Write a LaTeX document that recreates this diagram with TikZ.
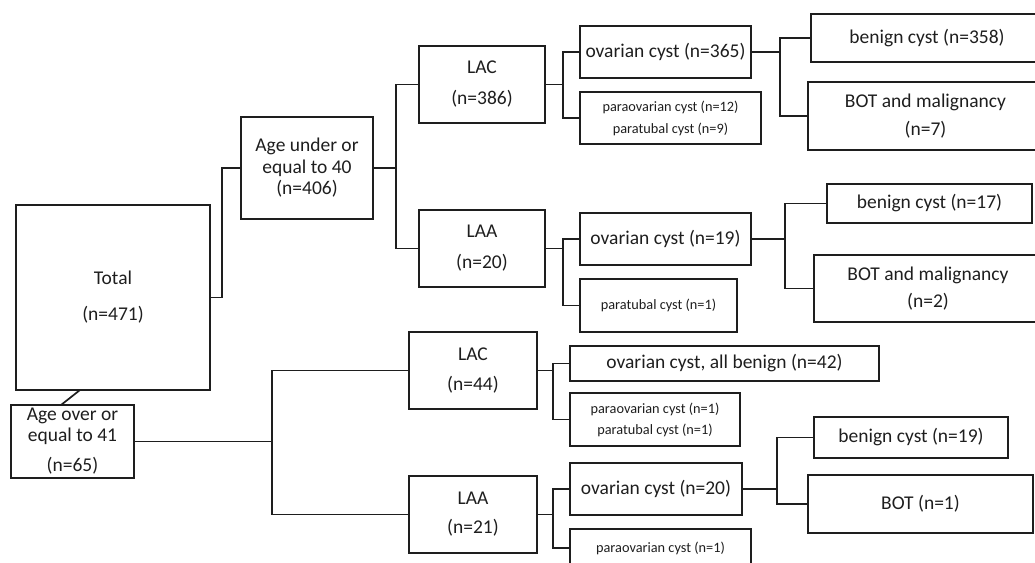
\documentclass[tikz,border=0pt]{standalone}
\usepackage{fontspec}
\setmainfont{Carlito}
\definecolor{ink}{HTML}{1E1E1E}
\newcommand\drawbox[7]{%
  \node[box,#1,minimum width={(#5-#3)*1pt},minimum height={(#6-#4)*1pt}] (#2) at ({(#3+#5)/2},{(#4+#6)/2}) {#7};}
\begin{document}
\begin{tikzpicture}[x=1pt,y=-1pt,
  box/.style={draw=ink,line width=1.9pt,rectangle,inner sep=0pt,outer sep=0pt,align=center,text=ink},
  big/.style={font=\fontsize{19.5}{#1}\selectfont},
  big/.default=24,
  small/.style={font=\fontsize{14.3}{#1}\selectfont},
  small/.default=21,
  link/.style={draw=ink,line width=1.7pt}]
\useasboundingbox (0,0) rectangle (1035,562);
\clip (0,0) rectangle (1035,562);
% boxes: options, name, left, top, right, bottom, text
\drawbox{big=36}{total}{16}{205}{210}{390}{Total\\(n=471)}
\drawbox{big=21}{over41}{11}{405}{134}{478}{Age over or\\equal to 41\\[9pt](n=65)}
\drawbox{big=21.5}{under40}{241}{117}{373}{219}{Age under or\\equal to 40\\(n=406)}
\drawbox{big=31}{lac1}{419}{46}{545}{123}{LAC\\(n=386)}
\drawbox{big=31}{laa1}{419}{210}{545}{287}{LAA\\(n=20)}
\drawbox{big}{ov365}{580}{26}{751}{78}{ovarian cyst (n=365)}
\drawbox{small=22}{para12}{580}{92}{761}{144}{paraovarian cyst (n=12)\\paratubal cyst (n=9)}
\drawbox{big}{ben358}{811}{14}{1043}{62}{benign cyst (n=358)}
\drawbox{big=28}{bot7}{808}{82}{1043}{150}{BOT and malignancy\\(n=7)}
\drawbox{big}{ov19}{580}{213}{751}{265}{ovarian cyst (n=19)}
\drawbox{small}{paratub1}{580}{279}{737}{332}{paratubal cyst (n=1)}
\drawbox{big}{ben17}{827}{184}{1032}{223}{benign cyst (n=17)}
\drawbox{big=27}{bot2}{814}{255}{1042}{322}{BOT and malignancy\\(n=2)}
\drawbox{big=30}{lac2}{409}{332}{537}{409}{LAC\\(n=44)}
\drawbox{big=29}{laa2}{409}{476}{537}{553}{LAA\\(n=21)}
\drawbox{big}{ovall}{570}{346}{879}{381}{ovarian cyst, all benign (n=42)}
\drawbox{small=21}{paraboth}{570}{393}{740}{446}{paraovarian cyst (n=1)\\paratubal cyst (n=1)}
\drawbox{big}{ov20}{570}{463}{742}{515}{ovarian cyst (n=20)}
\drawbox{small}{para1}{570}{529}{751}{567}{paraovarian cyst (n=1)}
\drawbox{big}{ben19}{814}{417}{1008}{458}{benign cyst (n=19)}
\drawbox{big}{bot1}{808}{475}{1033}{533}{BOT (n=1)}
% connectors
\draw[link] (total.east) -- ++(12,0) |- (under40.west);
\draw[link] ([xshift=-33pt]total.south) -- ([xshift=-11.5pt]over41.north);
\draw[link] (under40.east) -- ++(23,0) coordinate (f1);
\draw[link] (lac1.west) -| (f1) |- (laa1.west);
\draw[link] (lac1.east) -- ++(18,0) coordinate (f2);
\draw[link] (ov365.west) -| (f2) |- (para12.west);
\draw[link] (laa1.east) -- ++(18,0) coordinate (f3);
\draw[link] (ov19.west) -| (f3) |- (paratub1.west);
\draw[link] (ov365.east) -- ++(29,0) coordinate (f4);
\draw[link] (ben358.west) -| (f4) |- (bot7.west);
\draw[link] (ov19.east) -- ++(34,0) coordinate (f5);
\draw[link] (ben17.west) -| (f5) |- (bot2.west);
\draw[link] (over41.east) -- ++(138,0) coordinate (f6);
\draw[link] (lac2.west) -| (f6) |- (laa2.west);
\draw[link] (lac2.east) -- ++(16,0) coordinate (f7);
\draw[link] (ovall.west) -| (f7) |- (paraboth.west);
\draw[link] (laa2.east) -- ++(16,0) coordinate (f8);
\draw[link] (ov20.west) -| (f8) |- (para1.west);
\draw[link] (ov20.east) -- ++(35,0) coordinate (f9);
\draw[link] (ben19.west) -| (f9) |- (bot1.west);
\end{tikzpicture}
\end{document}
